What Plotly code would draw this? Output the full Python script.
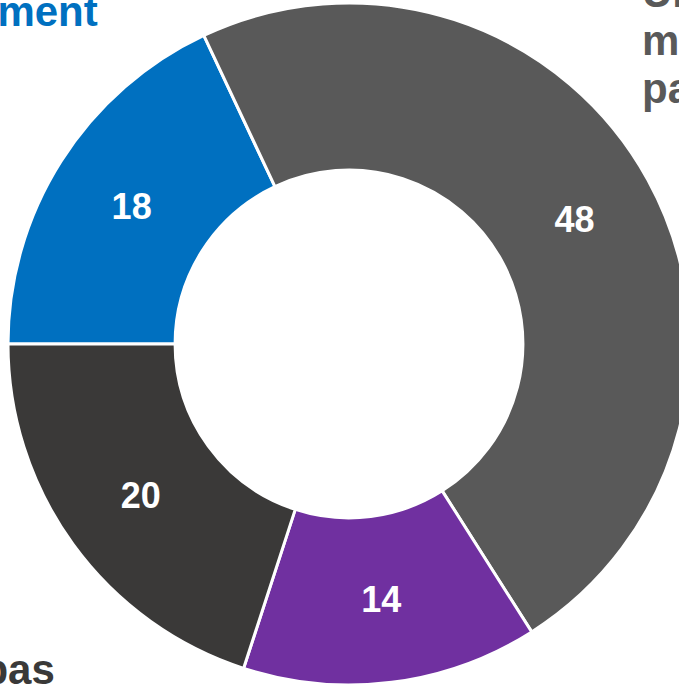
import plotly.graph_objects as go

# ---- data ----
labels = ["Un partenaire<br>de développement", "Un<br>mauvais<br>partenaire", "Un concurrent", "Ne sait pas"]
values = [18, 48, 14, 20]
colors = ["#0070C0", "#595959", "#7030A0", "#3A3938"]

W, H = 690, 685
FONT = "Liberation Sans, Arial, sans-serif"
LABEL_SIZE = 42
LINE_H = 48  # baseline-to-baseline spacing of outer labels (px)

fig = go.Figure(
    go.Pie(
        labels=labels,
        values=values,
        hole=0.51,
        sort=False,
        direction="clockwise",
        rotation=-90,
        marker=dict(colors=colors, line=dict(color="white", width=3)),
        textinfo="value",
        textposition="inside",
        insidetextorientation="horizontal",
        textfont=dict(color="white", size=36, family=FONT, weight="bold"),
        domain=dict(x=[8 / W, 1], y=[0, 682 / H]),
        showlegend=False,
        hoverinfo="label+value",
    )
)


def px(x):
    return x / W


def py(y):
    return 1 - y / H


# offset from text baseline to annotation box middle for one line
MID_OFF = 0.3465 * LABEL_SIZE


def add_label(i, x, last_baseline, anchor, first_baseline=None):
    lines = labels[i].split("<br>")
    n = len(lines)
    for k, line in enumerate(lines):
        if first_baseline is not None:
            base = first_baseline + k * LINE_H
        else:
            base = last_baseline - (n - 1 - k) * LINE_H
        fig.add_annotation(
            text=line, x=px(x), y=py(base - MID_OFF), xref="paper", yref="paper",
            xanchor=anchor, yanchor="middle", showarrow=False,
            font=dict(color=colors[i], size=LABEL_SIZE, family=FONT, weight="bold"),
        )


# outer category labels (only partly visible, as in the reference crop)
add_label(0, 100, 26, "right")
add_label(1, 640, None, "left", first_baseline=7)
add_label(3, 57, 684, "right")

fig.update_layout(
    width=W,
    height=H,
    autosize=False,
    margin=dict(l=0, r=0, t=0, b=0),
    paper_bgcolor="white",
    plot_bgcolor="white",
)

fig.write_html(
    "out.html",
    config={"displayModeBar": False},
    post_script="document.body.style.margin='0';document.body.style.overflow='hidden';document.documentElement.style.overflow='hidden';",
)
